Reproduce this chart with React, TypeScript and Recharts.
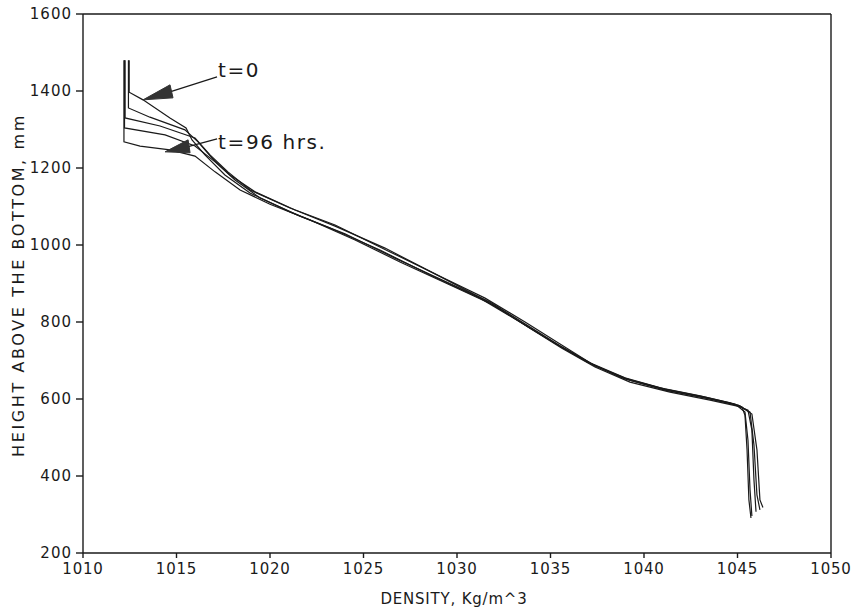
import React from 'react';
import { LineChart, Line, XAxis, YAxis, ReferenceLine, ReferenceDot, Label } from 'recharts';

// density profiles (kg/m^3) vs height above the bottom (mm), t=0 ... t=96 hrs
const densityT0 = [1012.47, 1012.47, 1013.21, 1014.65, 1015.51, 1015.83, 1016.52, 1017.59, 1018.93, 1021.07, 1023.21, 1025.88, 1028.56, 1031.23, 1033.37, 1035.13, 1036.95, 1038.72, 1040.86, 1043.0, 1044.6, 1045.56, 1045.77, 1045.88, 1045.99];
const heightT0 = [1480, 1397, 1377, 1330, 1304, 1273, 1234, 1182, 1135, 1086, 1044, 987, 922, 862, 800, 748, 696, 657, 629, 608, 590, 571, 519, 390, 307];

const densityT24 = [1012.43, 1012.43, 1013.58, 1015.45, 1016.15, 1016.9, 1017.86, 1019.2, 1021.34, 1023.48, 1026.15, 1028.82, 1031.5, 1033.64, 1035.4, 1037.11, 1038.98, 1041.12, 1043.26, 1044.87, 1045.4, 1045.56, 1045.67, 1045.77];
const heightT24 = [1480, 1356, 1332, 1299, 1268, 1226, 1182, 1138, 1091, 1049, 992, 925, 857, 792, 740, 694, 655, 626, 605, 587, 566, 493, 364, 296];

const densityT48 = [1012.25, 1012.25, 1014.12, 1015.99, 1016.79, 1017.75, 1018.93, 1021.07, 1023.48, 1026.42, 1029.09, 1031.5, 1033.64, 1035.51, 1037.22, 1038.98, 1041.12, 1043.26, 1045.03, 1045.67, 1045.88, 1046.04, 1046.2];
const heightT48 = [1480, 1330, 1309, 1278, 1234, 1190, 1143, 1096, 1052, 982, 919, 862, 800, 743, 691, 652, 623, 603, 584, 566, 481, 351, 312];

const densityT72 = [1012.22, 1012.22, 1014.39, 1015.99, 1017.06, 1018.13, 1019.47, 1021.6, 1024.01, 1026.68, 1029.36, 1031.76, 1033.8, 1035.51, 1037.38, 1039.25, 1041.39, 1043.53, 1045.13, 1045.77, 1046.04, 1046.2, 1046.36];
const heightT72 = [1480, 1304, 1286, 1257, 1216, 1169, 1122, 1075, 1029, 966, 906, 852, 790, 738, 686, 649, 621, 600, 582, 561, 468, 338, 318];

const densityT96 = [1012.19, 1012.19, 1013.05, 1014.65, 1015.99, 1017.06, 1018.4, 1020.0, 1022.14, 1024.55, 1026.95, 1029.63, 1032.03, 1033.9, 1035.61, 1037.38, 1039.25, 1041.39, 1043.53, 1045.24, 1045.4, 1045.51, 1045.61, 1045.72];
const heightT96 = [1480, 1268, 1257, 1247, 1231, 1190, 1143, 1106, 1065, 1013, 956, 896, 842, 784, 732, 683, 644, 618, 597, 579, 558, 468, 338, 291];

const densityTicks = [1010, 1015, 1020, 1025, 1030, 1035, 1040, 1045, 1050];
const heightTicks = [200, 400, 600, 800, 1000, 1200, 1400, 1600];

const toPoints = (d: number[], h: number[]) => d.map((v, i) => ({ d: v, h: h[i] }));

const profiles = [
  { key: 't0', data: toPoints(densityT0, heightT0) },
  { key: 't24', data: toPoints(densityT24, heightT24) },
  { key: 't48', data: toPoints(densityT48, heightT48) },
  { key: 't72', data: toPoints(densityT72, heightT72) },
  { key: 't96', data: toPoints(densityT96, heightT96) },
];

const FONT = '"DejaVu Sans", sans-serif';
const INK = '#1a1a1a';

// arrow pointing at (cx, cy), base offsets + leader line + text, all relative to the tip
const arrowShape = (base: number[][], lead: number[], text: string, tx: number, ty: number) => (p: any) => {
  const { cx, cy } = p;
  const pts = [[0, 0], ...base].map(([x, y]) => `${cx + x},${cy + y}`).join(' ');
  const mx = (base[0][0] + base[1][0]) / 2;
  const my = (base[0][1] + base[1][1]) / 2;
  return (
    <g>
      <polygon points={pts} fill="#333" stroke="#333" strokeWidth={1} />
      <line x1={cx + mx} y1={cy + my} x2={cx + lead[0]} y2={cy + lead[1]} stroke={INK} strokeWidth={1.2} />
      <text x={cx + tx} y={cy + ty} fontFamily={FONT} fontSize={20} fill={INK} letterSpacing={1.6}>{text}</text>
    </g>
  );
};

export default function App() {
  return (
    <div style={{ position: 'absolute', left: 0, top: 0, background: '#fff' }}>
      <LineChart width={854} height={615} margin={{ top: 14, right: 23, left: 0, bottom: 22 }}>
        <XAxis
          type="number"
          dataKey="d"
          domain={[1010, 1050]}
          ticks={densityTicks}
          height={40}
          stroke={INK}
          strokeWidth={1.4}
          tickSize={5}
          tick={{ fill: INK, fontFamily: FONT, fontSize: 15, letterSpacing: 0.8 }}
          tickMargin={5}
        >
          <Label
            content={() => (
              <text x={454} y={604} textAnchor="middle" fontFamily={FONT} fontSize={15} fill={INK} letterSpacing={0.8}>
                DENSITY,  Kg/m^3
              </text>
            )}
          />
        </XAxis>
        <YAxis
          type="number"
          dataKey="h"
          domain={[200, 1600]}
          ticks={heightTicks}
          width={83}
          stroke={INK}
          strokeWidth={1.4}
          tickSize={7}
          tick={{ fill: INK, fontFamily: FONT, fontSize: 15, letterSpacing: 1 }}
          tickMargin={4}
        >
          <Label
            content={() => (
              <text
                x={24}
                y={285}
                transform="rotate(-90 24 285)"
                textAnchor="middle"
                fontFamily={FONT}
                fontSize={16}
                fill={INK}
                letterSpacing={2.6}
              >
                HEIGHT ABOVE THE BOTTOM,  mm
              </text>
            )}
          />
        </YAxis>
        <ReferenceLine y={1600} stroke={INK} strokeWidth={1.4} />
        <ReferenceLine x={1050} stroke={INK} strokeWidth={1.4} />
        {profiles.map((p) => (
          <Line
            key={p.key}
            data={p.data}
            dataKey="h"
            type="linear"
            stroke={INK}
            strokeWidth={1.2}
            dot={false}
            activeDot={false}
            isAnimationActive={false}
          />
        ))}
        <ReferenceDot
          x={densityT0[2]}
          y={heightT0[2]}
          shape={arrowShape([[27, -15], [30, -2]], [74, -23], 't=0', 75, -23)}
        />
        <ReferenceDot
          x={1014.39}
          y={1242}
          shape={arrowShape([[23, -12], [25, 1]], [52, -13], 't=96  hrs.', 53, -3)}
        />
      </LineChart>
    </div>
  );
}
